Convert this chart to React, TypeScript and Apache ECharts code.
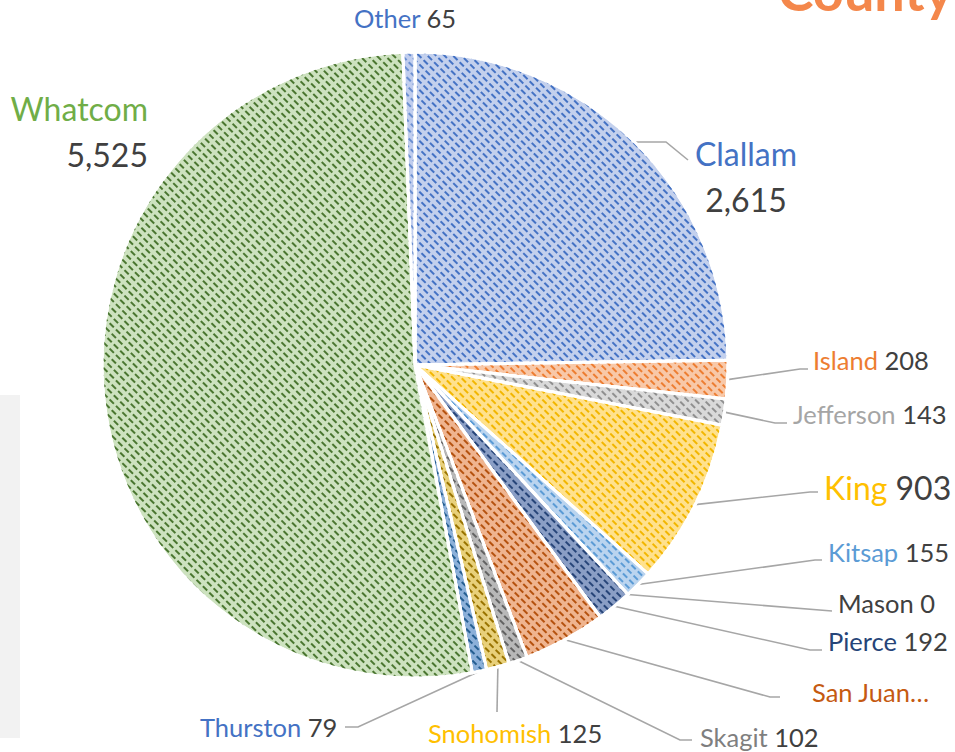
import React, { useEffect, useRef } from 'react';
import * as echarts from 'echarts';

// ---- data ----
const counties = ['Clallam', 'Island', 'Jefferson', 'King', 'Kitsap', 'Mason', 'Pierce', 'San Juan', 'Skagit', 'Snohomish', 'Thurston', 'Whatcom', 'Other'];
const counts = [2615, 208, 143, 903, 155, 0, 192, 450, 102, 125, 79, 5525, 65];
const truncatedLabels = ['San Juan'];
const largeLabels = ['Clallam', 'King', 'Whatcom'];
const twoLineLabels = ['Clallam', 'Whatcom'];
const hiddenLines = ['Other', 'Whatcom'];
const titleText = 'County';

// ---- styles ----
const fillColors = ['#c3d0ed', '#f8c8a8', '#d9d9d9', '#ffe18d', '#bad4ef', '#c5e0b4', '#8a9ec5', '#efb48f', '#b8b8b8', '#e8d07a', '#8cb0d9', '#cde2bf', '#c0cdee'];
const decalColors = ['#4472C4', '#ED7D31', '#8f8f8f', '#f2b600', '#5B9BD5', '#70AD47', '#264478', '#b5520f', '#636363', '#997300', '#255E91', '#4a7630', '#698ED0'];
const nameColors = ['#4472C4', '#ED7D31', '#A5A5A5', '#FFC000', '#5B9BD5', '#404040', '#264478', '#C55A11', '#7F7F7F', '#FFC000', '#4472C4', '#70AD47', '#4472C4'];

type Placement = { x: number; y: number; align: 'left' | 'center' | 'right'; line?: number[][] };
const labelPlacement: Record<string, Placement> = {
  Other: { x: 405, y: 18, align: 'center' },
  Clallam: { x: 746, y: 176, align: 'center', line: [[666, 142], [688, 160]] },
  Whatcom: { x: 148, y: 131, align: 'right' },
  Island: { x: 813, y: 360, align: 'left', line: [[800, 369], [808, 369]] },
  Jefferson: { x: 793, y: 414, align: 'left', line: [[775, 423], [787, 423]] },
  King: { x: 824, y: 487, align: 'left', line: [[810, 492], [818, 492]] },
  Kitsap: { x: 828, y: 552, align: 'left', line: [[815, 560], [822, 560]] },
  Mason: { x: 838, y: 603, align: 'left', line: [[832, 611]] },
  Pierce: { x: 828, y: 641, align: 'left', line: [[810, 650], [822, 650]] },
  'San Juan': { x: 812, y: 692, align: 'left', line: [[770, 697], [780, 697]] },
  Skagit: { x: 700, y: 737, align: 'left', line: [[680, 740], [692, 740]] },
  Snohomish: { x: 428, y: 733, align: 'left', line: [[497, 712]] },
  Thurston: { x: 200, y: 727, align: 'left', line: [[358, 727], [345, 727]] },
};

const CX = 415;
const CY = 365;
const R = 313;
const FONT = 'Lato, "Open Sans", sans-serif';
const NBSP = '\u00a0';

export default function App() {
  const ref = useRef<HTMLDivElement>(null);

  useEffect(() => {
    document.body.style.margin = '0';
    if (!ref.current) return;
    const chart = echarts.init(ref.current, undefined, { renderer: 'svg' });

    const total = counts.reduce((a, b) => a + b, 0);

    const data = counties.map((name, i) => {
      const big = largeLabels.includes(name);
      const fs = big ? 32 : 25.5;
      return {
        name,
        value: counts[i],
        itemStyle: {
          color: fillColors[i],
          decal: {
            symbol: 'rect',
            symbolSize: 1,
            dashArrayX: [[6, 3]],
            dashArrayY: [2, 4],
            rotation: Math.PI / 4,
            color: decalColors[i],
          },
        },
        label: {
          rich: {
            n: { color: nameColors[i], fontSize: fs, fontFamily: FONT, lineHeight: big ? 46 : 30 },
            v: { color: '#404040', fontSize: fs, fontFamily: FONT, lineHeight: big ? 46 : 30 },
          },
        },
        labelLine: { show: !hiddenLines.includes(name) },
      };
    });

    chart.setOption({
      animation: false,
      backgroundColor: '#ffffff',
      graphic: [
        {
          type: 'rect',
          z: -10,
          shape: { x: 0, y: 395, width: 20, height: 343 },
          style: { fill: '#f2f2f2' },
        },
        {
          type: 'text',
          x: 953,
          y: -10,
          style: {
            text: titleText,
            fill: '#F4874B',
            font: 'bold 54px ' + FONT,
            align: 'right',
            verticalAlign: 'middle',
          },
        },
      ],
      series: [
        {
          type: 'pie',
          center: [CX, CY],
          radius: [0, R],
          startAngle: 90,
          clockwise: true,
          avoidLabelOverlap: false,
          itemStyle: { borderColor: '#ffffff', borderWidth: 3 },
          label: {
            show: true,
            position: 'outside',
            fontFamily: FONT,
            formatter: (p: any) => {
              const name = p.name as string;
              if (truncatedLabels.includes(name)) return `{n|${name}…}`;
              const v = Number(p.value).toLocaleString('en-US');
              if (twoLineLabels.includes(name)) return `{n|${name}}\n{v|${v}}`;
              return `{n|${name}${NBSP}}{v|${v}}`;
            },
          },
          labelLine: {
            show: true,
            length: 10,
            length2: 10,
            lineStyle: { color: '#a6a6a6', width: 1.6 },
          },
          labelLayout: (params: any) => {
            const name = counties[params.dataIndex];
            const p = labelPlacement[name];
            if (!p) return {};
            const res: any = { x: p.x, y: p.y, align: p.align, verticalAlign: 'middle' };
            if (p.line) {
              let start: number[];
              if (params.labelLinePoints && params.labelLinePoints[0]) {
                start = params.labelLinePoints[0];
              } else {
                let before = 0;
                for (let k = 0; k < params.dataIndex; k++) before += counts[k];
                const mid = ((before + counts[params.dataIndex] / 2) / total) * Math.PI * 2;
                start = [CX + R * Math.sin(mid), CY - R * Math.cos(mid)];
              }
              res.labelLinePoints = [start, ...p.line];
            }
            return res;
          },
          data,
        },
      ],
    });

    return () => chart.dispose();
  }, []);

  return <div ref={ref} style={{ width: 955, height: 752 }} />;
}
